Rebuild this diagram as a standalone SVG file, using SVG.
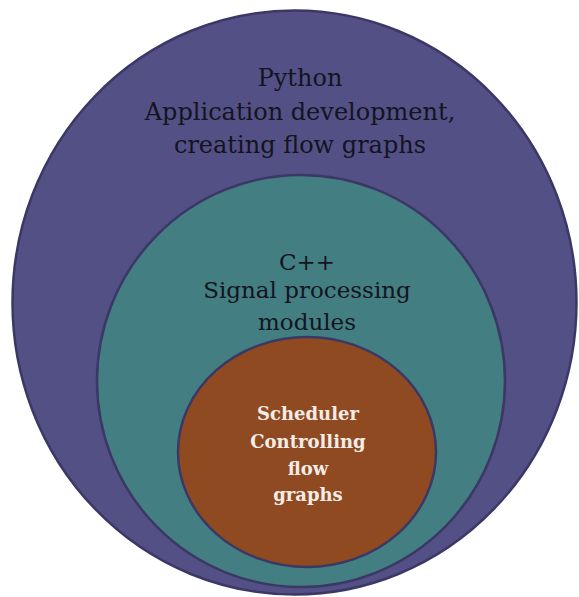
<svg xmlns="http://www.w3.org/2000/svg" width="579" height="597" viewBox="0 0 579 597">
<style>
.ring{stroke:#3b3866;stroke-width:2.5}
.t{font-family:"DejaVu Serif","Liberation Serif",serif;text-anchor:middle;fill:#141420}
.w{font-family:"DejaVu Serif","Liberation Serif",serif;text-anchor:middle;fill:#f4ece6;font-weight:bold}
</style>
<rect width="579" height="597" fill="#ffffff"/>
<g id="python">
<ellipse class="ring" cx="294.5" cy="302.5" rx="282" ry="292" fill="#535086"/>
<text class="t" font-size="24"><tspan x="300" y="86">Python</tspan><tspan x="300" y="120">Application development,</tspan><tspan x="300" y="153">creating flow graphs</tspan></text>
</g>
<g id="cpp">
<ellipse class="ring" cx="301" cy="381" rx="204" ry="206" fill="#437e82"/>
<text class="t" font-size="23"><tspan x="307" y="270">C++</tspan><tspan x="307" y="298">Signal processing</tspan><tspan x="307" y="330">modules</tspan></text>
</g>
<g id="scheduler">
<ellipse class="ring" cx="307" cy="452" rx="129" ry="115" fill="#8f4a22"/>
<text class="w" font-size="18"><tspan x="308" y="420">Scheduler</tspan><tspan x="308" y="448">Controlling</tspan><tspan x="308" y="475">flow</tspan><tspan x="308" y="501">graphs</tspan></text>
</g>
<g id="connectors"/>
</svg>
